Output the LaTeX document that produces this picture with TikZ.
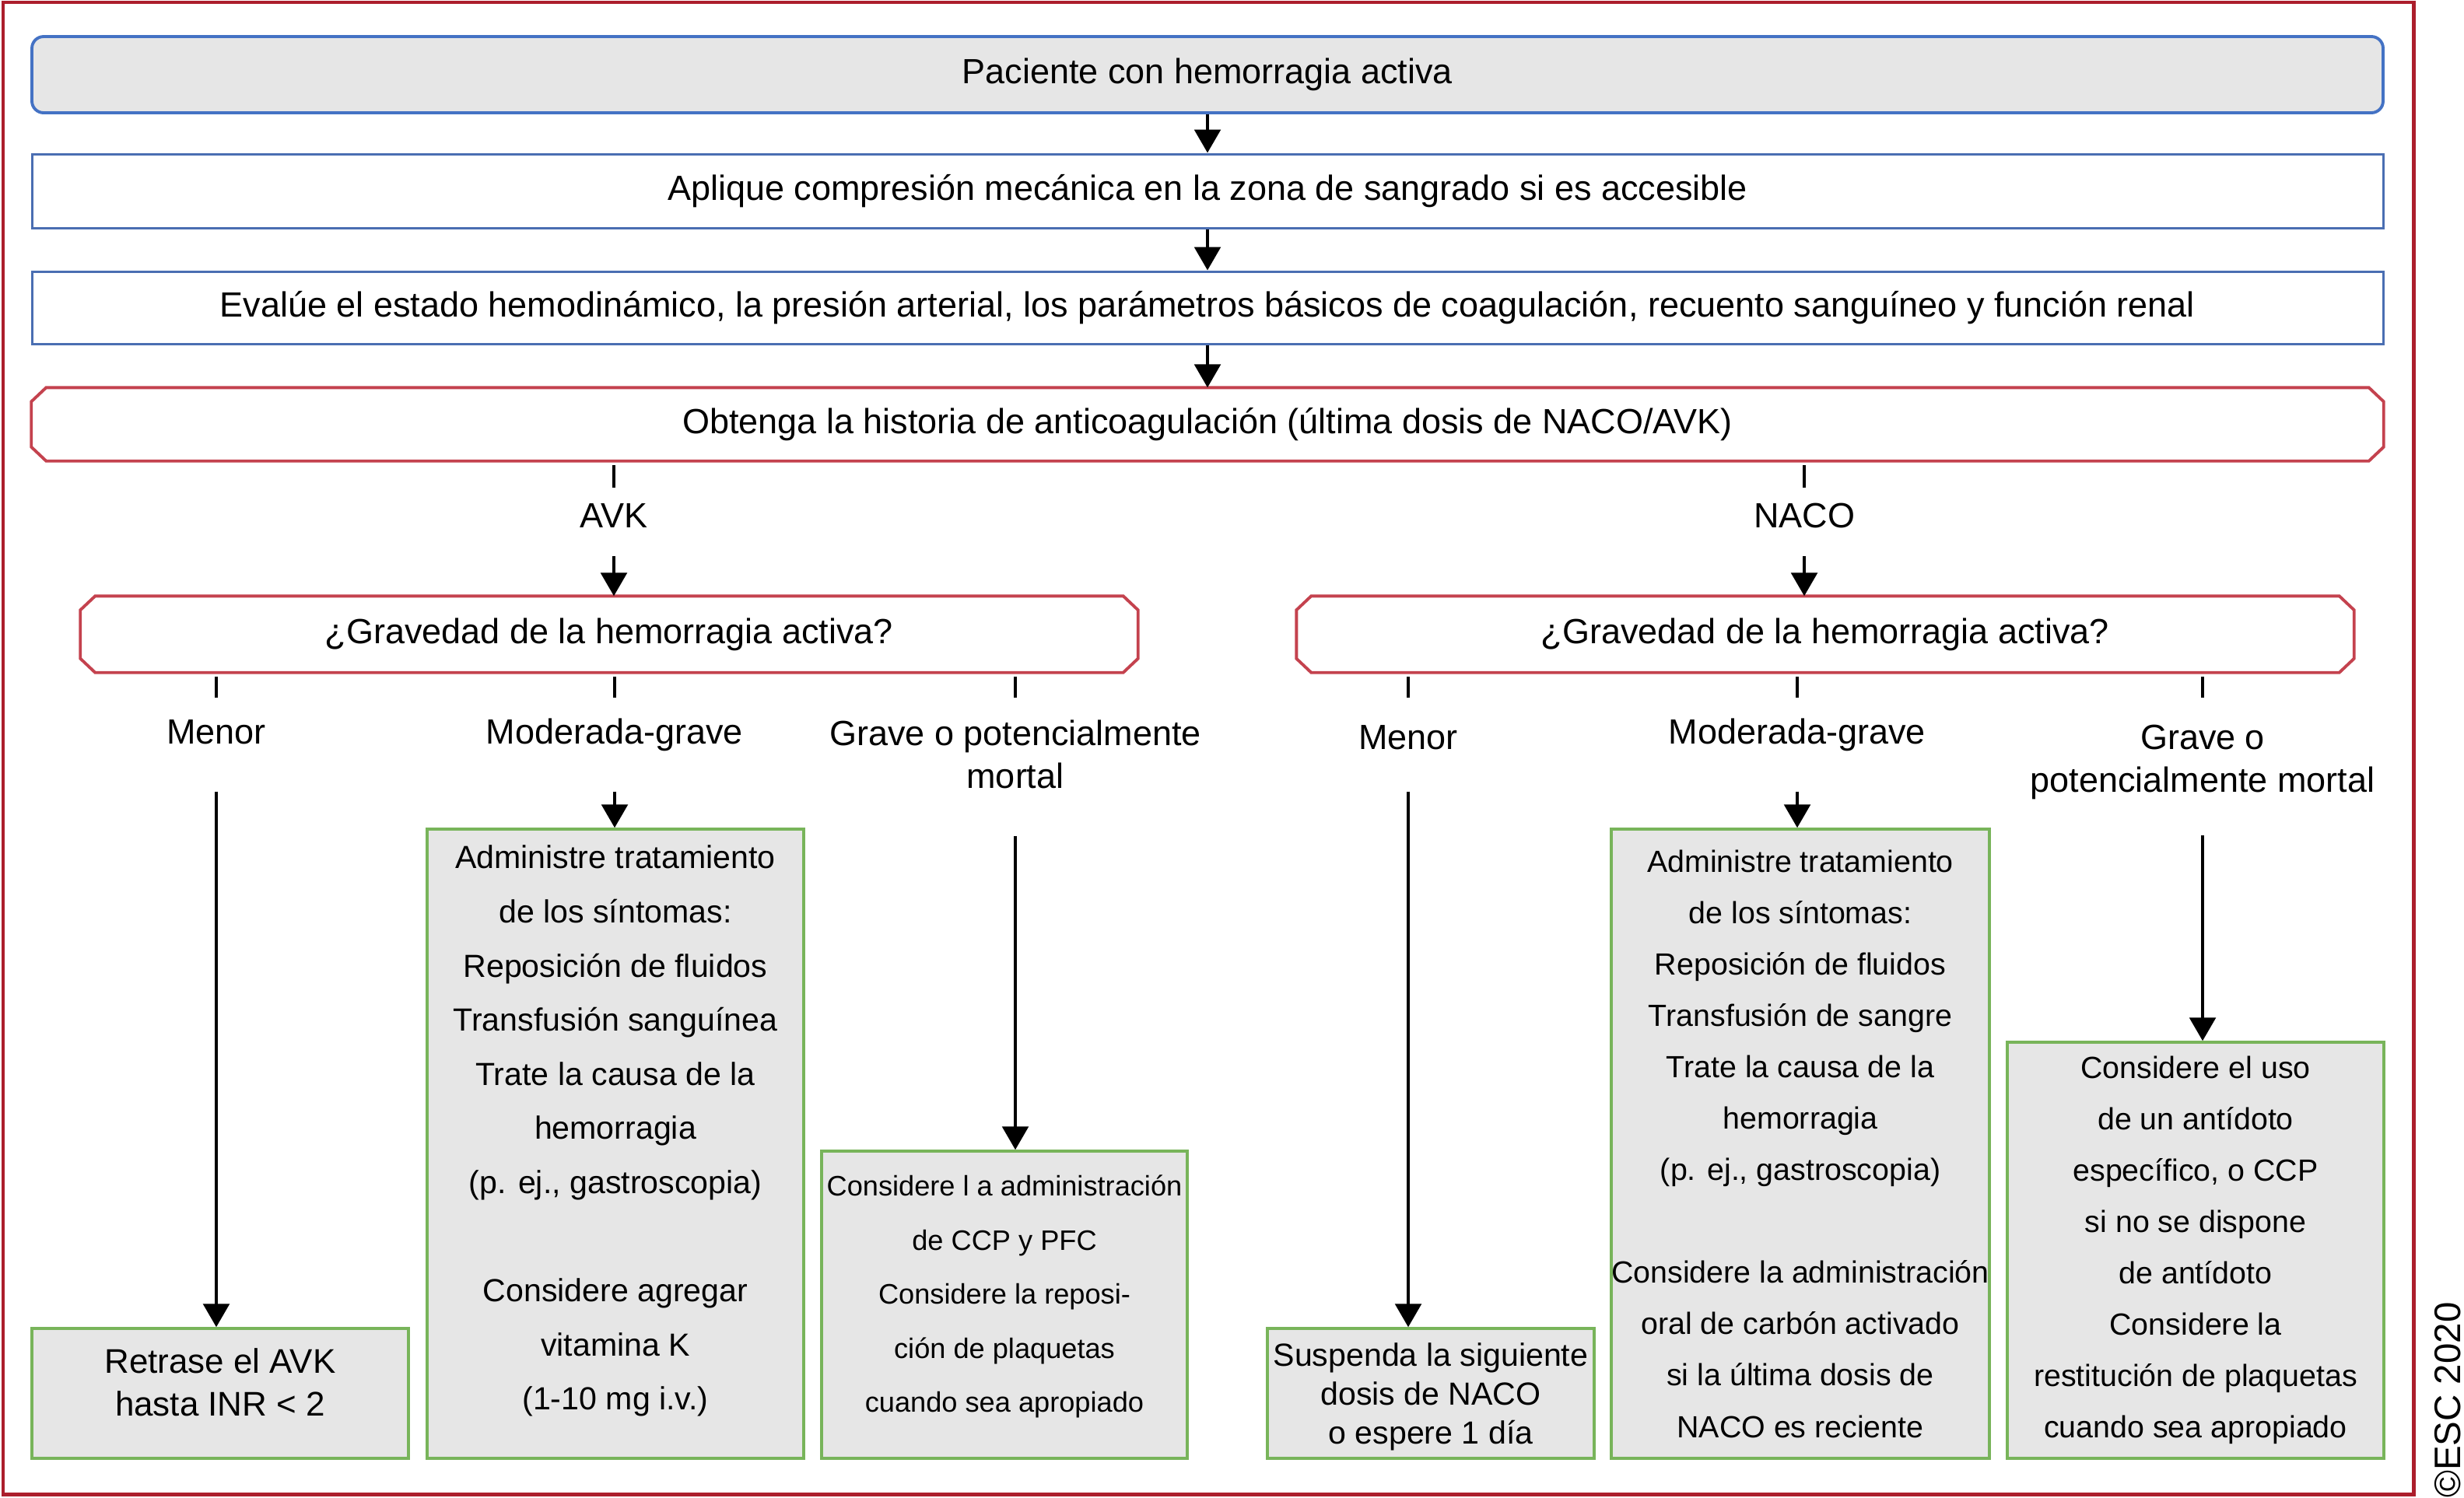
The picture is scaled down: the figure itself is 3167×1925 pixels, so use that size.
\documentclass[tikz,border=0pt]{standalone}
\usepackage{fontspec}
\setmainfont{Liberation Sans}
\usetikzlibrary{arrows.meta,calc,positioning}

\definecolor{frameRed}{RGB}{172,30,44}
\definecolor{boxBlue}{RGB}{68,114,196}
\definecolor{lineBlue}{RGB}{74,110,178}
\definecolor{qRed}{RGB}{196,66,78}
\definecolor{ansGreen}{RGB}{120,180,90}
\definecolor{ansGray}{RGB}{230,230,230}

\newcommand{\fsMain}{\fontsize{12.8}{15.6}\selectfont}
\newcommand{\fsBox}{\fontsize{11.7}{19.8}\selectfont}
\newcommand{\fsSmall}{\fontsize{10.3}{19.8}\selectfont}
\newcommand{\fsNaco}{\fontsize{11.2}{18.8}\selectfont}
\newcommand{\fsShort}{\fontsize{11.7}{14.3}\selectfont}

% outline with cut corners round a named node
\newcommand{\chamferbox}[1]{%
  \draw[qline] ($(#1.north west)+(19,0)$) -- ($(#1.north east)+(-19,0)$)
    -- ($(#1.north east)+(0,18)$) -- ($(#1.south east)+(0,-18)$)
    -- ($(#1.south east)+(-19,0)$) -- ($(#1.south west)+(19,0)$)
    -- ($(#1.south west)+(0,-18)$) -- ($(#1.north west)+(0,18)$) -- cycle;}

\begin{document}
\begin{tikzpicture}[x=0.1mm,y=-0.1mm,
				toprow/.style ={rectangle, minimum width=302.2mm, inner sep=0pt, font=\fsMain},
				start/.style ={toprow, draw=boxBlue, fill=ansGray, line width=1.1pt,
					rounded corners=1.5mm, minimum height=9.8mm},
				plain/.style ={toprow, draw=lineBlue, line width=0.85pt},
				qnode/.style ={rectangle, inner sep=0pt, font=\fsMain},
				qline/.style ={draw=qRed, line width=1.1pt},
				answer/.style ={rectangle, draw=ansGreen, fill=ansGray, line width=1pt,
					inner sep=0pt, align=center, minimum width=48.4mm},
				branch/.style ={inner sep=0pt, align=center, anchor=north, font=\fsMain},
				tick/.style ={draw, line width=1.2pt, shorten <=0.55mm},
				line/.style ={draw, line width=1.2pt, -{Triangle[width=9.5pt,length=8.5pt]}}]
				\useasboundingbox (0,0) rectangle (3167,1925);
				\draw[frameRed, line width=1.4pt] (4,3) rectangle (3102,1921);
				% common steps - rows 1 to 4
				\node [start] (patient) at (1552,96) {Paciente con hemorragia activa};
				\node [plain, minimum height=9.5mm] (compress) at (1552,245.5) {Aplique compresión mecánica en la zona de sangrado si es accesible};
				\node [plain, minimum height=9.3mm] (assess) at (1552,395.5) {Evalúe el estado hemodinámico, la presión arterial, los parámetros básicos de coagulación, recuento sanguíneo y función renal};
				\node [qnode, minimum width=302.2mm, minimum height=9.3mm] (history) at (1552,545.5) {Obtenga la historia de anticoagulación (última dosis de NACO/AVK)};
				\chamferbox{history}
				% drug branches
				\node [branch, text height=14.5pt, text depth=10.2pt] (avk) at (789,627) {AVK};
				\node [branch, text height=14.5pt, text depth=10.2pt] (naco) at (2319,627) {NACO};
				\node [qnode, minimum width=135.8mm, minimum height=9.7mm] (avkq) at (783,815.5) {¿Gravedad de la hemorragia activa?};
				\node [qnode, minimum width=135.8mm, minimum height=9.7mm] (nacoq) at (2346,815.5) {¿Gravedad de la hemorragia activa?};
				\chamferbox{avkq}
				\chamferbox{nacoq}
				% severity - AVK side
				\node [branch, text height=16.8pt, text depth=17.1pt] (minorA) at (278,897) {Menor};
				\node [branch, text height=16.8pt, text depth=17.1pt] (moderateA) at (790,897) {Moderada-grave};
				\node [branch, text height=33pt, text depth=17.1pt] (severeA) at (1305,897) {Grave o potencialmente\\mortal};
				% severity - NACO side
				\node [branch, text height=18.8pt, text depth=15.1pt] (minorN) at (1810,897) {Menor};
				\node [branch, text height=16.8pt, text depth=17.1pt] (moderateN) at (2310,897) {Moderada-grave};
				\node [branch, text height=34.4pt, text depth=15.6pt] (severeN) at (2831,897) {Grave o\\potencialmente mortal};
				% actions - AVK side
				\node [answer, minimum height=16.7mm, text depth=8pt, font=\fontsize{12.5}{15.6}\selectfont] (avkMinor) at (283,1791.5) {Retrase el AVK\\hasta INR < 2};
				\node [answer, minimum height=80.9mm, text depth=11.7pt, font=\fsBox] (avkModerate) at (791,1470.5) {Administre tratamiento\\de los síntomas:\\Reposición de fluidos\\Transfusión sanguínea\\Trate la causa de la\\hemorragia\\(p. ej., gastroscopia)\\[19.8pt]Considere agregar\\vitamina K\\(1-10 mg i.v.)};
				\node [answer, minimum width=47mm, minimum height=39.5mm, text depth=8pt, font=\fsSmall] (avkSevere) at (1291,1677.5) {Considere l a administración\\de CCP y PFC\\Considere la reposi-\\ción de plaquetas\\cuando sea apropiado};
				% actions - NACO side
				\node [answer, minimum width=42mm, minimum height=16.7mm, text depth=0pt, font=\fsShort] (nacoMinor) at (1839,1791.5) {Suspenda la siguiente\\dosis de NACO\\o espere 1 día};
				\node [answer, minimum height=80.9mm, font=\fsNaco] (nacoModerate) at (2314,1470.5) {Administre tratamiento\\de los síntomas:\\Reposición de fluidos\\Transfusión de sangre\\Trate la causa de la\\hemorragia\\(p. ej., gastroscopia)\\[18.8pt]Considere la administración\\oral de carbón activado\\si la última dosis de\\NACO es reciente};
				\node [answer, minimum height=53.5mm, font=\fsNaco] (nacoSevere) at (2822,1607.5) {Considere el uso\\de un antídoto\\específico, o CCP\\si no se dispone\\de antídoto\\Considere la\\restitución de plaquetas\\cuando sea apropiado};
				\node [rotate=90, inner sep=0pt, font=\fontsize{13.5}{16}\selectfont] (copyright) at (3146,1800) {©ESC 2020};
				% short ticks under the question boxes
				\draw [tick] (history.south -| avk) -- (avk.north);
				\draw [tick] (history.south -| naco) -- (naco.north);
				\foreach \lbl in {minorA,moderateA,severeA}
					\draw [tick] (avkq.south -| \lbl) -- (\lbl.north);
				\foreach \lbl in {minorN,moderateN,severeN}
					\draw [tick] (nacoq.south -| \lbl) -- (\lbl.north);
				% connecting nodes with paths
				\begin{scope}[every path/.style=line]
					\path (patient) -- (compress);
					\path (compress) -- (assess);
					\path (assess) -- (history);
					\path (avk.south) -- (avk.south |- avkq.north);
					\path (naco.south) -- (naco.south |- nacoq.north);
					\path (minorA.south) -- (minorA.south |- avkMinor.north);
					\path (moderateA.south) -- (moderateA.south |- avkModerate.north);
					\path (severeA.south) -- (severeA.south |- avkSevere.north);
					\path (minorN.south) -- (minorN.south |- nacoMinor.north);
					\path (moderateN.south) -- (moderateN.south |- nacoModerate.north);
					\path (severeN.south) -- (severeN.south |- nacoSevere.north);
				\end{scope}
			\end{tikzpicture}
\end{document}
